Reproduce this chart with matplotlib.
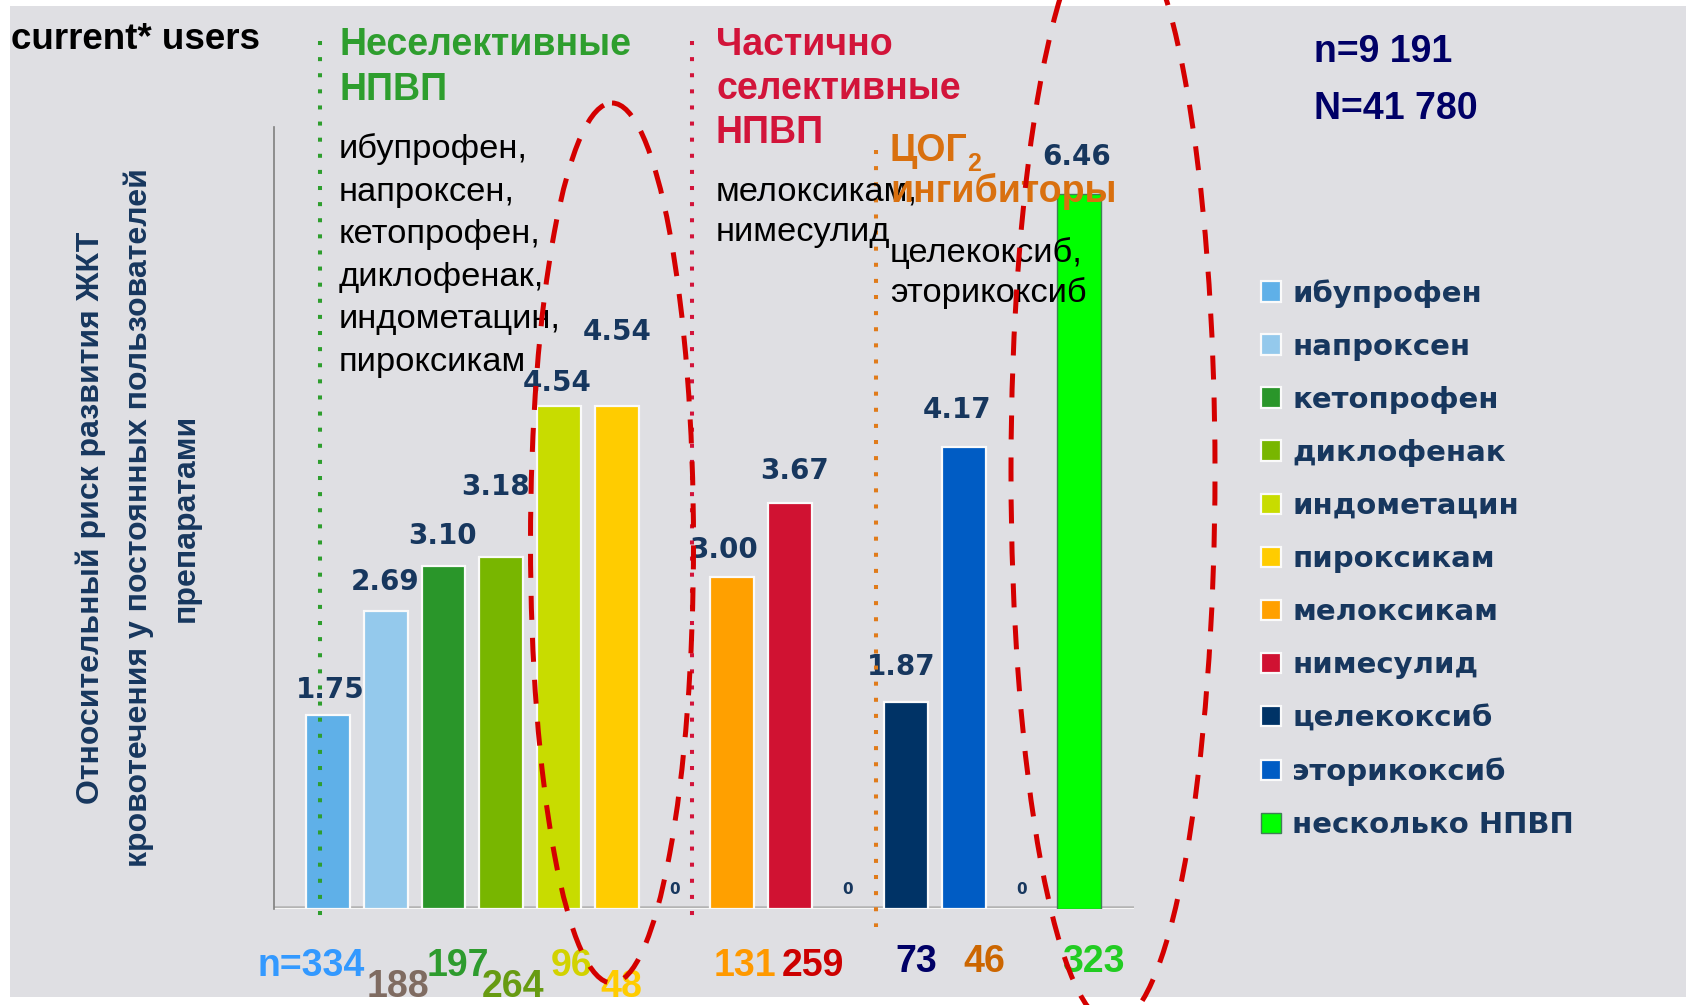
import matplotlib as mpl

mpl.use('Agg')
import matplotlib.pyplot as plt
from matplotlib import font_manager
from matplotlib.patches import Ellipse, Rectangle

# relative risk of upper GI bleeding in current users, by NSAID
drugs = ['ибупрофен', 'напроксен', 'кетопрофен', 'диклофенак', 'индометацин',
         'пироксикам', 'мелоксикам', 'нимесулид', 'целекоксиб', 'эторикоксиб',
         'несколько НПВП']
risk = [1.75, 2.69, 3.10, 3.18, 4.54, 4.54, 3.00, 3.67, 1.87, 4.17, 6.46]
n_users = [334, 188, 197, 264, 96, 48, 131, 259, 73, 46, 323]
group_sizes = [6, 2, 2, 1]

group_titles = ['Неселективные\nНПВП', 'Частично\nселективные\nНПВП', 'ЦОГ\nингибиторы']
group_members = ['ибупрофен,\nнапроксен,\nкетопрофен,\nдиклофенак,\nиндометацин,\nпироксикам',
                 'мелоксикам,\nнимесулид',
                 'целекоксиб,\nэторикоксиб']
totals = ['n=9 191', 'N=41 780']
y_title = ('Относительный риск развития ЖКТ\n'
           'кровотечения у постоянных пользователей\n'
           'препаратами')

bar_colors = ['#5fb0e8', '#94c9ec', '#2a962a', '#78b600', '#c8dc00', '#ffcc00',
              '#ffa000', '#d01232', '#003366', '#005cc4', '#00ff00']
n_colors = ['#3399ff', '#7f6b61', '#2e9b2e', '#679b12', '#d2d200', '#ffcc00',
            '#ff9900', '#cc0000', '#000066', '#cc6600', '#22cc22']
title_colors = ['#2e9e2e', '#d2143a', '#d9700f']
navy = '#17375e'

# label nudges in pixels (value labels above bars, n counts under them)
label_dx = [2, -1, -1, -6, -2, 0, -9, 4, -5, -6, -2]
label_dy = [25, 29, 30, 70, 23, 74, 27, 32, 35, 37, 37]
n_dx = [-17, 12, 14, 12, 12, 4, 13, 23, 10, 21, 14]
n_dy = [-57, -78, -57, -78, -57, -78, -57, -57, -53, -53, -53]

W, H = 1686, 1005

names = {f.name for f in font_manager.fontManager.ttflist}
narrow = 'Liberation Sans Narrow' if 'Liberation Sans Narrow' in names else 'Liberation Sans'

# bar slots: one empty slot between groups
pos, gaps = [], []
x = 0
for k, size in enumerate(group_sizes):
    pos += list(range(x, x + size))
    x += size
    if k < len(group_sizes) - 1:
        gaps.append(x)
        x += 1

fig = plt.figure(figsize=(W / 100, H / 100), dpi=100)
fig.patch.set_facecolor('white')
fig.add_artist(Rectangle((10 / W, 1 - 997 / H), (W - 10) / W, 991 / H,
                         transform=fig.transFigure, facecolor='#dfdfe3',
                         edgecolor='none', zorder=-10))

ax = fig.add_axes([274 / W, 1 - 909 / H, 860 / W, 782 / H])
ax.set_facecolor('none')
ax.set_xlim(-0.934, 13.95)
ax.set_ylim(0, 7.064)

handles = []
for i, (p, v) in enumerate(zip(pos, risk)):
    last = i == len(risk) - 1
    b = ax.bar(p, v, width=0.76, color=bar_colors[i],
               edgecolor='#3f7f55' if last else '#fafafa',
               linewidth=1.0 if last else 1.6, label=drugs[i], zorder=3)
    handles.append(b)
    ax.annotate(f'{v:.2f}', (p, v), xytext=(label_dx[i], label_dy[i]),
                textcoords='offset pixels', ha='center', va='center',
                fontsize=20, fontweight='bold', color=navy,
                family='DejaVu Sans', zorder=4)
    txt = f'n={n_users[i]}' if i == 0 else str(n_users[i])
    ax.annotate(txt, (p, 0), xytext=(n_dx[i], n_dy[i]),
                textcoords='offset pixels', ha='center', va='center',
                fontsize=32 if narrow != 'Liberation Sans' else 27,
                fontweight='bold', color=n_colors[i], family=narrow,
                annotation_clip=False)

for g in gaps:
    ax.annotate('0', (g, 0), xytext=(0, 20), textcoords='offset pixels',
                ha='center', va='center', fontsize=11, fontweight='bold',
                color=navy, family='DejaVu Sans')

ax.axhline(0, color='#b4b4b4', lw=4, zorder=2)
ax.axhline(0, color='white', lw=2, zorder=2.5)
for s in ['top', 'right', 'bottom']:
    ax.spines[s].set_visible(False)
ax.spines['left'].set_color('#7f7f7f')
ax.spines['left'].set_linewidth(1.2)
ax.set_xticks([])
ax.set_yticks([])
ax.set_ylabel(y_title, fontsize=23, fontweight='bold', color=navy,
              family='Liberation Sans', linespacing=1.72, labelpad=53)

ax.legend(handles=handles, loc='upper left', bbox_to_anchor=(1261 / W, 1 - 279 / H),
          bbox_transform=fig.transFigure, frameon=False, handlelength=0.7,
          handleheight=0.7, handletextpad=0.38, labelspacing=0.86, borderpad=0,
          borderaxespad=0, labelcolor=navy,
          prop={'family': 'DejaVu Sans', 'weight': 'bold', 'size': 21})

# annotation layer in pixel coordinates
ov = fig.add_axes([0, 0, 1, 1], zorder=5)
ov.set_xlim(0, W)
ov.set_ylim(H, 0)
ov.axis('off')
ov.patch.set_alpha(0)


def lines_at(x, y0, step, text, **kw):
    for j, line in enumerate(text.split('\n')):
        ov.text(x, y0 + j * step, line, ha='left', va='baseline', **kw)


for xd, y0, y1, c in [(320, 41, 925, title_colors[0]), (692, 41, 919, title_colors[1]),
                      (876, 150, 927, '#e07b1a')]:
    ov.plot([xd, xd], [y0, y1], color=c, lw=2.9, linestyle=(0, (1, 3)))

ov.text(11, 49, 'current* users', ha='left', va='baseline', fontsize=26.5,
        fontweight='bold', family='Liberation Sans', color='black')

head = dict(fontsize=27, fontweight='bold', family='Liberation Sans')
body = dict(fontsize=24.8, family='Liberation Sans', color='black')
lines_at(339, 158, 42.5, group_members[0], **body)
lines_at(716, 200, 41, group_members[1], **body)
lines_at(890, 262, 40, group_members[2], **body)
lines_at(339, 55, 45, group_titles[0], color=title_colors[0], **head)
lines_at(716, 55, 44, group_titles[1], color=title_colors[1], **head)
lines_at(890, 161, 41, group_titles[2], color=title_colors[2], **head)
ov.text(967, 171, '2', ha='left', va='baseline', fontsize=18, fontweight='bold',
        family='Liberation Sans', color=title_colors[2])
lines_at(1314, 62, 57, '\n'.join(totals), color='#000066', **head)

dash = dict(fill=False, edgecolor='#d40000', lw=3.6, linestyle=(0, (4.8, 3.6)), zorder=6)
ov.add_patch(Ellipse((612, 543), 163, 880, **dash))
ov.add_patch(Ellipse((1113, 471), 204, 1106, **dash))

fig.savefig('out.png', dpi=100, facecolor=fig.get_facecolor())
